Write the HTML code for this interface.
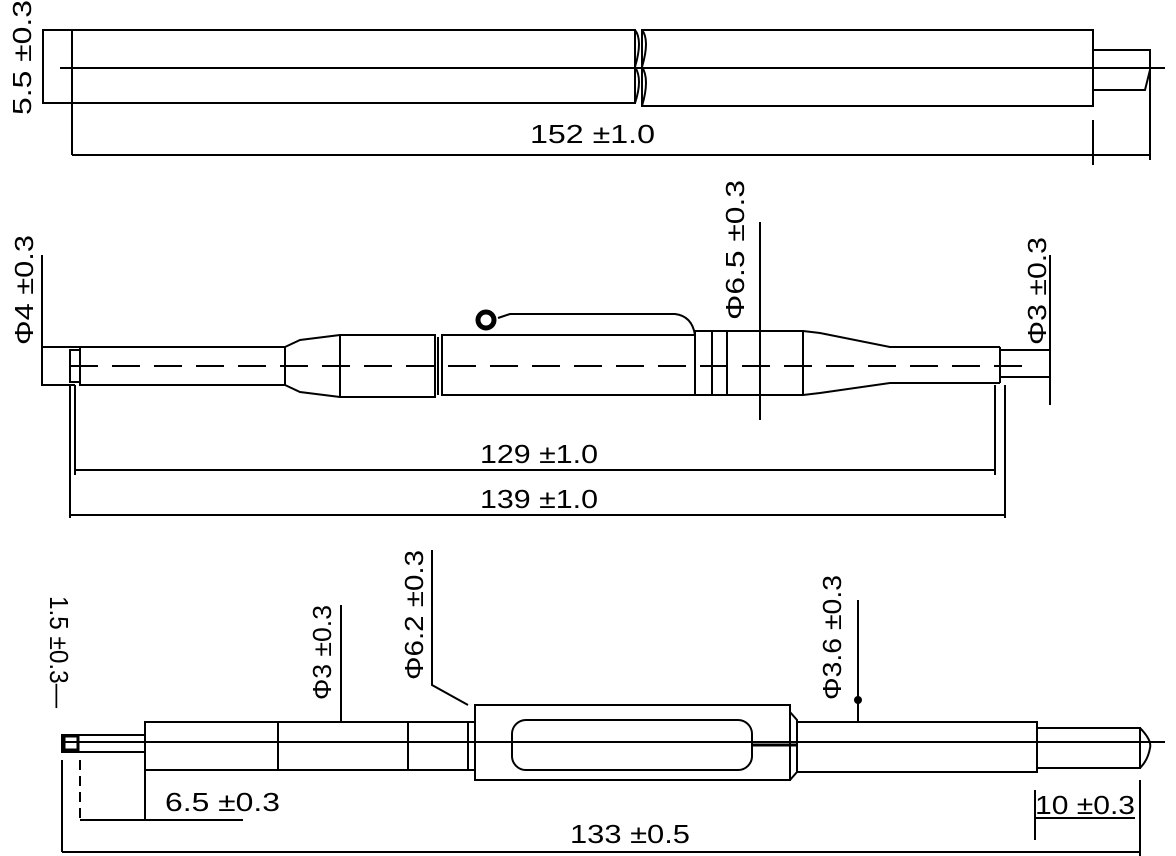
<!DOCTYPE html>
<html><head><meta charset="utf-8"><style>
html,body{margin:0;padding:0;background:#fff;width:1176px;height:856px;overflow:hidden}
svg{display:block}
text{font-family:"Liberation Sans",sans-serif;font-size:26px;fill:#000}
</style></head><body>
<svg width="1176" height="856" viewBox="0 0 1176 856" xmlns="http://www.w3.org/2000/svg" fill="none" stroke="#000" stroke-width="2">
<!-- TOP VIEW -->
<rect x="43" y="30" width="592" height="73"/>
<line x1="72" y1="30" x2="72" y2="155"/>
<rect x="642" y="30" width="451" height="76"/>
<path d="M635 30 q8 10 0 37 q8 12 0 36 M642 30 q8 10 0 37 q8 12 0 39"/>
<line x1="60" y1="68" x2="1165" y2="68"/>
<path d="M1093 50 H1150 V70 L1145 90 H1093"/>
<line x1="1150" y1="70" x2="1150" y2="160"/>
<line x1="1093" y1="120" x2="1093" y2="165"/>
<line x1="72" y1="155" x2="1093" y2="155"/>
<line x1="1093" y1="155" x2="1150" y2="155"/>
<text x="530" y="143" stroke="none" textLength="125" lengthAdjust="spacingAndGlyphs">152 ±1.0</text>
<text transform="translate(31,115) rotate(-90)" stroke="none" textLength="115" lengthAdjust="spacingAndGlyphs">5.5 ±0.3</text>

<!-- MIDDLE VIEW -->
<path d="M42 255 V385 H75 M42 347 H80"/>
<rect x="70" y="350" width="10" height="32"/>
<rect x="80" y="347" width="205" height="38"/>
<path d="M285 347 L300 340 L340 335 M285 385 L300 392 L340 397"/>
<line x1="285" y1="347" x2="285" y2="385"/>
<rect x="340" y="335" width="95" height="62"/>
<line x1="438" y1="337" x2="438" y2="395"/>
<rect x="442" y="335" width="253" height="60"/>
<circle cx="486" cy="320" r="8" stroke-width="5"/>
<path d="M498 318 L510 314 H675 Q692 316 695 335"/>
<rect x="695" y="331" width="108" height="64"/>
<line x1="712" y1="331" x2="712" y2="395"/>
<line x1="727" y1="331" x2="727" y2="395"/>
<line x1="760" y1="222" x2="760" y2="420"/>
<path d="M803 331 L820 333 L890 347 H1000 M803 395 L820 393 L890 383 H1000"/>
<line x1="1000" y1="347" x2="1000" y2="383"/>
<rect x="1000" y="350" width="50" height="27"/>
<line x1="1050" y1="255" x2="1050" y2="405"/>
<line x1="70" y1="366" x2="1025" y2="366" stroke-dasharray="28,14"/>
<line x1="75" y1="385" x2="75" y2="475"/>
<line x1="995" y1="385" x2="995" y2="475"/>
<line x1="75" y1="470" x2="995" y2="470"/>
<line x1="70" y1="385" x2="70" y2="518"/>
<line x1="1005" y1="385" x2="1005" y2="518"/>
<line x1="70" y1="515" x2="1005" y2="515"/>
<text x="480" y="463" stroke="none" textLength="118" lengthAdjust="spacingAndGlyphs">129 ±1.0</text>
<text x="480" y="508" stroke="none" textLength="118" lengthAdjust="spacingAndGlyphs">139 ±1.0</text>
<text transform="translate(33,345) rotate(-90)" stroke="none" textLength="110" lengthAdjust="spacingAndGlyphs">Φ4 ±0.3</text>
<text transform="translate(744,320) rotate(-90)" stroke="none" textLength="140" lengthAdjust="spacingAndGlyphs">Φ6.5 ±0.3</text>
<text transform="translate(1046,345) rotate(-90)" stroke="none" textLength="108" lengthAdjust="spacingAndGlyphs">Φ3 ±0.3</text>

<!-- BOTTOM VIEW -->
<rect x="62" y="735" width="83" height="17"/>
<rect x="64" y="736" width="14" height="14" stroke-width="3"/>
<rect x="145" y="722" width="330" height="48"/>
<line x1="278" y1="722" x2="278" y2="770"/>
<line x1="408" y1="722" x2="408" y2="770"/>
<line x1="468" y1="722" x2="468" y2="770"/>
<rect x="475" y="705" width="315" height="75"/>
<rect x="512" y="720" width="240" height="50" rx="14"/>
<path d="M790 712 L797 720 V772 L790 780"/>
<rect x="797" y="722" width="240" height="50"/>
<rect x="1037" y="728" width="103" height="40"/>
<path d="M1140 728 Q1152 740 1150 748 Q1148 760 1140 768"/>
<line x1="62" y1="742" x2="1165" y2="742"/>
<line x1="752" y1="745" x2="797" y2="745" stroke-width="3"/>
<line x1="341" y1="605" x2="341" y2="722"/>
<path d="M432 550 V685 L468 705"/>
<line x1="858" y1="600" x2="858" y2="722"/>
<circle cx="858" cy="700" r="3" fill="#000"/>
<line x1="80" y1="760" x2="80" y2="820" stroke-dasharray="10,6"/>
<line x1="145" y1="770" x2="145" y2="820"/>
<line x1="80" y1="820" x2="243" y2="820"/>
<line x1="1035" y1="790" x2="1035" y2="840"/>
<line x1="1140" y1="780" x2="1140" y2="856"/>
<line x1="1035" y1="818" x2="1135" y2="818"/>
<line x1="62" y1="760" x2="62" y2="852"/>
<line x1="62" y1="852" x2="1140" y2="852"/>
<text x="165" y="811" stroke="none" textLength="115" lengthAdjust="spacingAndGlyphs">6.5 ±0.3</text>
<text x="1035" y="814" stroke="none" textLength="100" lengthAdjust="spacingAndGlyphs">10 ±0.3</text>
<text x="570" y="843" stroke="none" textLength="120" lengthAdjust="spacingAndGlyphs">133 ±0.5</text>
<text transform="translate(50,596) rotate(90)" stroke="none" textLength="112" lengthAdjust="spacingAndGlyphs">1.5 ±0.3—</text>
<text transform="translate(331,700) rotate(-90)" stroke="none" textLength="95" lengthAdjust="spacingAndGlyphs">Φ3 ±0.3</text>
<text transform="translate(423,680) rotate(-90)" stroke="none" textLength="130" lengthAdjust="spacingAndGlyphs">Φ6.2 ±0.3</text>
<text transform="translate(841,700) rotate(-90)" stroke="none" textLength="125" lengthAdjust="spacingAndGlyphs">Φ3.6 ±0.3</text>
</svg>
</body></html>
